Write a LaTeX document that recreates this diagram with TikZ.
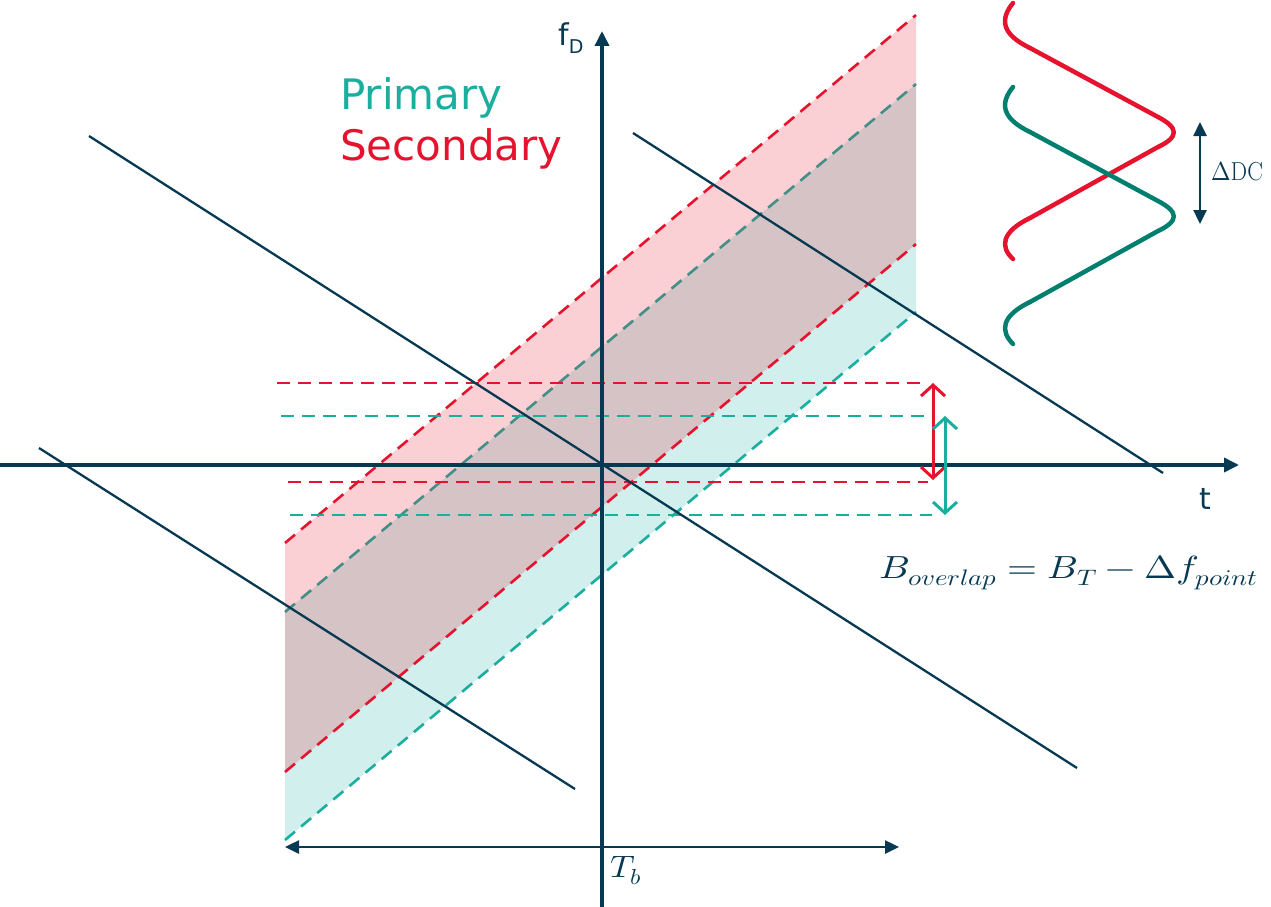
\documentclass[tikz,border=0pt]{standalone}
\usepackage{fontspec}
\usepackage{unicode-math}
\setmathfont{Latin Modern Math}
\usetikzlibrary{arrows.meta}
\newfontfamily\sansf{DejaVu Sans}
\definecolor{navy}{HTML}{073A52}
\definecolor{myred}{HTML}{E5132D}
\definecolor{myteal}{HTML}{1AAE9F}
\definecolor{mygreen}{HTML}{007F6E}
\tikzset{
  axis/.style={navy, line width=3.5pt, -{Triangle[length=15pt,width=14pt]}},
  guide/.style={navy, line width=2.3pt},
  rdash/.style={myred, line width=2.6pt, dash pattern=on 13pt off 8pt},
  tdash/.style={myteal, line width=2.6pt, dash pattern=on 13pt off 8pt},
  rarr/.style={myred, line width=3pt, {Straight Barb[length=11pt,width=24pt]}-{Straight Barb[length=11pt,width=24pt]}},
  tarr/.style={myteal, line width=3pt, {Straight Barb[length=11pt,width=24pt]}-{Straight Barb[length=11pt,width=24pt]}},
  dim/.style={navy, line width=2.5pt, {Triangle[length=14pt,width=13pt]}-{Triangle[length=14pt,width=13pt]}},
  curve/.style={line width=4.5pt, line cap=round},
  lbl/.style={inner sep=0pt, text=navy},
}
\begin{document}
\begin{tikzpicture}[x=1pt,y=-1pt]
\useasboundingbox (0,0) rectangle (1271,907);
% band corners
\coordinate (ru1) at (285,543); \coordinate (ru2) at (916,15);
\coordinate (rl1) at (285,772); \coordinate (rl2) at (916,244);
\coordinate (tu1) at (285,612); \coordinate (tu2) at (916,84);
\coordinate (tl1) at (285,840); \coordinate (tl2) at (916,312);
% teal band
\fill[myteal, opacity=0.2] (tu1) -- (tu2) -- (tl2) -- (tl1) -- cycle;
\draw[tdash] (tu1) -- (tu2);
\draw[tdash] (tl1) -- (tl2);
% red band
\fill[myred, opacity=0.2] (ru1) -- (ru2) -- (rl2) -- (rl1) -- cycle;
\draw[rdash] (ru1) -- (ru2);
\draw[rdash] (rl1) -- (rl2);
% horizontal dashed
\coordinate (h1a) at (277,383); \coordinate (h1b) at (920,383);
\coordinate (h2a) at (281,416); \coordinate (h2b) at (924,416);
\coordinate (h3a) at (288,482); \coordinate (h3b) at (928,482);
\coordinate (h4a) at (290,515); \coordinate (h4b) at (932,515);
\draw[rdash] (h1a) -- (h1b);
\draw[tdash] (h2a) -- (h2b);
\draw[rdash] (h3a) -- (h3b);
\draw[tdash] (h4a) -- (h4b);
% guide lines
\coordinate (g1a) at (89,136); \coordinate (g1b) at (1077,768);
\coordinate (g2a) at (39,448); \coordinate (g2b) at (575,789);
\coordinate (g3a) at (633,133); \coordinate (g3b) at (1163,473);
\draw[guide] (g1a) -- (g1b);
\draw[guide] (g2a) -- (g2b);
\draw[guide] (g3a) -- (g3b);
% axes
\coordinate (xs) at (0,465); \coordinate (xe) at (1239,465);
\coordinate (ys) at (602,907); \coordinate (ye) at (602,31);
\draw[axis] (xs) -- (xe);
\draw[axis] (ys) -- (ye);
% vertical arrows
\coordinate (ra) at (933,383); \coordinate (rb) at (933,480);
\coordinate (ta) at (945,416); \coordinate (tb) at (945,515);
\draw[rarr] (ra) -- (rb);
\draw[tarr] (ta) -- (tb);
% T_b arrow
\coordinate (ba) at (285,847); \coordinate (bb) at (899,847);
\draw[dim] (ba) -- (bb);
% curves
\draw[curve, myred] (1013,3) .. controls (1000,19) and (1001,34) .. (1030,48) -- (1158,117) .. controls (1179,128) and (1179,137) .. (1158,147) -- (1030,218) .. controls (1001,232) and (1000,247) .. (1013,259);
\draw[curve, mygreen] (1013,87) .. controls (1000,103) and (1001,118) .. (1030,132) -- (1158,201) .. controls (1179,212) and (1179,221) .. (1158,231) -- (1030,302) .. controls (1001,316) and (1000,331) .. (1013,344);
\coordinate (da) at (1200,122); \coordinate (db) at (1200,224);
\draw[dim, line width=2.5pt] (da) -- (db);
% labels
\node[lbl, anchor=west] (dc) at (1211,171) {\scalebox{0.9}[1]{\fontsize{26}{28}\selectfont$\Delta$DC}};
\node[lbl, anchor=west, text=myteal] (prim) at (340,98) {\sansf\fontsize{42}{46}\selectfont Primary};
\node[lbl, anchor=west, text=myred] (sec) at (340,149) {\sansf\fontsize{42}{46}\selectfont Secondary};
\node[lbl, anchor=base west] (fd) at (558,46) {\sansf\fontsize{30}{32}\selectfont f\raisebox{-7pt}{\fontsize{19}{20}\selectfont D}};
\node[lbl, anchor=base west] (tt) at (1199,509) {\sansf\fontsize{30}{32}\selectfont t};
\node[lbl, anchor=base west] (tb) at (610,877) {\scalebox{1.1}[1]{\fontsize{31}{33}\selectfont$T_b$}};
\node[lbl, anchor=base west] (form) at (879,578) {\scalebox{1.2}[1]{\fontsize{32}{34}\selectfont$B_{overlap} = B_T - \Delta f_{point}$}};
\end{tikzpicture}
\end{document}
